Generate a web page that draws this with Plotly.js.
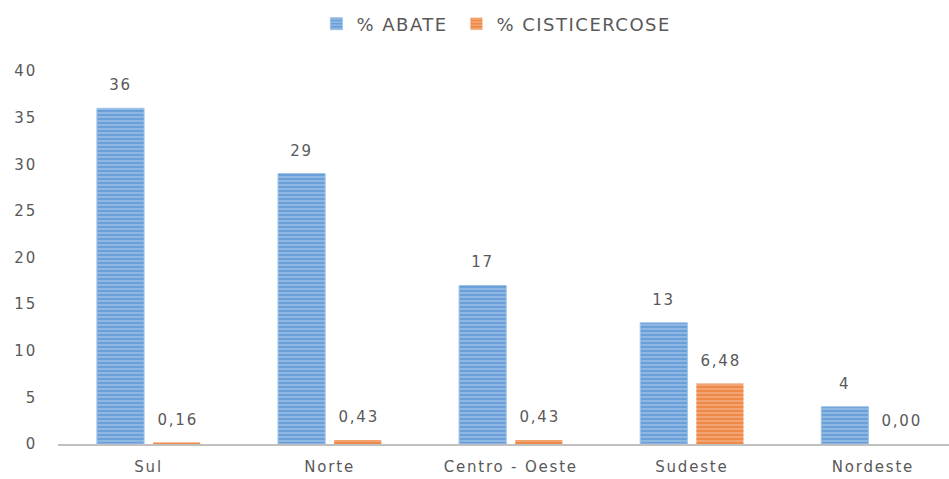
<!DOCTYPE html>
<html><head><meta charset="utf-8">
<script src="https://cdn.plot.ly/plotly-3.0.1.min.js"></script>
<style>html,body{margin:0;padding:0;background:#fff;}#chart{width:949px;height:479px;}
#chart svg text{letter-spacing:1.8px;}
#chart .legend .scrollbox{clip-path:none !important;}
#chart .legend text{letter-spacing:1.5px;}</style>
</head><body><div id="chart"></div>
<script>
const categories = ["Sul", "Norte", "Centro - Oeste", "Sudeste", "Nordeste"];
const abate = [36, 29, 17, 13, 4];
const cisticercose = [0.16, 0.43, 0.43, 6.48, 0.00];
const abateLabels = ["36", "29", "17", "13", "4"];
const cistLabels = ["0,16", "0,43", "0,43", "6,48", "0,00"];
const yTicks = [0, 5, 10, 15, 20, 25, 30, 35, 40];

const FONT = "'DejaVu Sans', Lato, sans-serif";
const GRAY = "#595959";

const traces = [
  {type: "bar", name: "% ABATE", x: categories, y: abate,
   marker: {color: "#6a9fd8", line: {color: "#9ec2ea", width: 1},
     pattern: {shape: "-", fillmode: "replace", bgcolor: "#6a9fd8", fgcolor: "#a7c8ec", size: 4, solidity: 0.3}},
   hoverinfo: "skip"},
  {type: "bar", name: "% CISTICERCOSE", x: categories, y: cisticercose,
   marker: {color: "#ee8a47", line: {color: "#f5b084", width: 0},
     pattern: {shape: "-", fillmode: "replace", bgcolor: "#ee8a47", fgcolor: "#f6b88f", size: 4, solidity: 0.3}},
   hoverinfo: "skip"}
];

const annotations = [];
categories.forEach((c, i) => {
  annotations.push({x: c, y: abate[i], text: abateLabels[i], showarrow: false, xshift: -28, yshift: 23,
    yanchor: "middle", font: {family: FONT, size: 15, color: GRAY}});
  annotations.push({x: c, y: cisticercose[i], text: cistLabels[i], showarrow: false, xshift: 29, yshift: 23,
    yanchor: "middle", font: {family: FONT, size: 15, color: GRAY}});
});

const layout = {
  width: 949, height: 479,
  margin: {l: 58, r: 0, t: 71, b: 35},
  paper_bgcolor: "#fff", plot_bgcolor: "#fff",
  font: {family: FONT, size: 15, color: GRAY},
  barmode: "group", bargap: 0.38, bargroupgap: 0.16,
  showlegend: true,
  legend: {orientation: "h", x: 0.29, xanchor: "left", y: 1.126, yanchor: "middle",
    font: {family: FONT, size: 18, color: GRAY}, itemwidth: 30, traceorder: "normal",
    entrywidth: 95, entrywidthmode: "pixels"},
  xaxis: {type: "category", range: [-0.5, 4.42], showgrid: false, zeroline: false,
    showline: true, linecolor: "#c0c0c0", linewidth: 2, ticks: "", ticklabelstandoff: 8,
    tickfont: {family: FONT, size: 15, color: GRAY}, fixedrange: true},
  yaxis: {range: [0, 40], tickvals: yTicks, ticktext: yTicks.map(String), showgrid: false,
    zeroline: false, showline: false, ticks: "", ticklabelstandoff: 20,
    tickfont: {family: FONT, size: 15, color: GRAY}, fixedrange: true},
  annotations: annotations
};

Plotly.newPlot("chart", traces, layout, {displayModeBar: false, staticPlot: true});
</script></body></html>
